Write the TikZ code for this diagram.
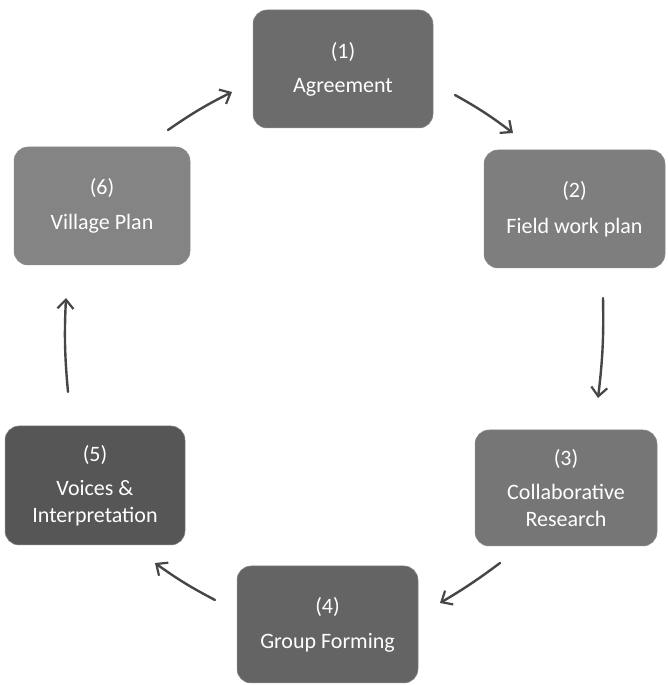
\documentclass[tikz,border=0pt]{standalone}
\usepackage{fontspec}
\setmainfont{Carlito}
\usetikzlibrary{arrows.meta}
\definecolor{gA}{RGB}{108,108,108}
\definecolor{gB}{RGB}{126,126,126}
\definecolor{gC}{RGB}{118,118,118}
\definecolor{gD}{RGB}{100,100,100}
\definecolor{gE}{RGB}{86,86,86}
\definecolor{gF}{RGB}{132,132,132}
\definecolor{arr}{RGB}{70,70,70}
\tikzset{
  stagebox/.style={rounded corners=14pt, draw=black!45, line width=0.5pt,
    minimum width=#1, text=white, align=center,
    font=\fontsize{22}{30}\selectfont, inner sep=0pt},
  flowarrow/.style={draw=arr, line width=2.4pt, line cap=round,
    -{Straight Barb[length=9pt,width=16pt,line width=2.2pt]}}
}
\begin{document}
\begin{tikzpicture}[x=1pt,y=1pt]
\useasboundingbox (0,0) rectangle (668,685);
\fill[white] (0,0) rectangle (668,685);
% boxes: centre (x, 685-y)
\node[stagebox=180pt, minimum height=118pt, fill=gA] (b1) at (343,616) {(1)\\[4pt]Agreement};
\node[stagebox=181pt, minimum height=118pt, fill=gB] (b2) at (574.5,476) {(2)\\[6pt]Field work plan};
\node[stagebox=182pt, minimum height=116pt, fill=gC] (b3) at (566,197) {(3)\\[4pt]Collaborative\\[-3pt]Research};
\node[stagebox=181pt, minimum height=117pt, fill=gD] (b4) at (327.5,60.5) {(4)\\[5pt]Group Forming};
\node[stagebox=180pt, minimum height=119pt, fill=gE] (b5) at (95,199.5) {(5)\\[4pt]Voices \&\\[-3pt]Interpretation};
\node[stagebox=176pt, minimum height=118pt, fill=gF] (b6) at (102,479) {(6)\\[5pt]Village Plan};
% arrow ends
\coordinate (a1s) at (168,555); \coordinate (a1e) at (232,593);
\coordinate (a2s) at (455,590); \coordinate (a2e) at (513,552);
\coordinate (a3s) at (603,387); \coordinate (a3e) at (598,287);
\coordinate (a4s) at (500,122); \coordinate (a4e) at (440,82);
\coordinate (a5s) at (215,85);  \coordinate (a5e) at (155,122);
\coordinate (a6s) at (68,293);  \coordinate (a6e) at (66,387);
\draw[flowarrow] (a1s) to[bend left=4] (a1e);
\draw[flowarrow] (a2s) to[bend left=4] (a2e);
\draw[flowarrow] (a3s) to[bend left=4] (a3e);
\draw[flowarrow] (a4s) to[bend left=3] (a4e);
\draw[flowarrow] (a5s) to[bend left=4] (a5e);
\draw[flowarrow] (a6s) to[bend left=4] (a6e);
\end{tikzpicture}
\end{document}
